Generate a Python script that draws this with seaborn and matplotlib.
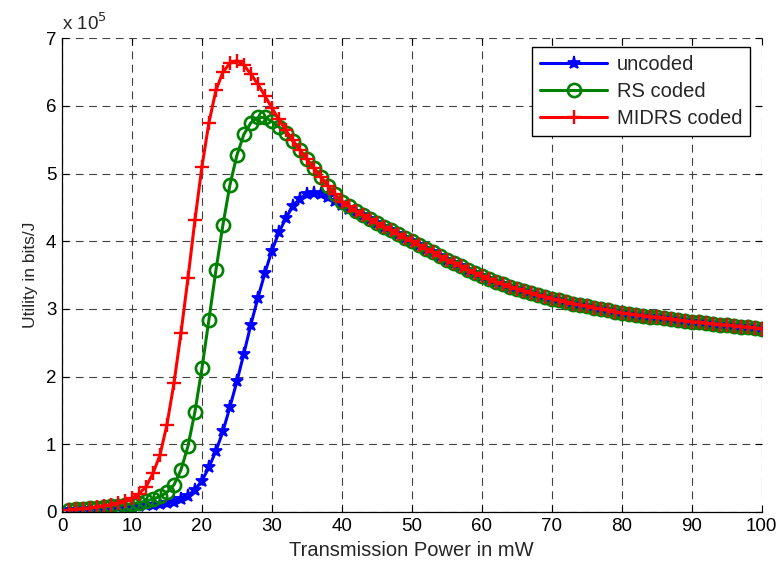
import numpy as np
import pandas as pd
import matplotlib
matplotlib.use("Agg")
import matplotlib.pyplot as plt
import seaborn as sns

# ---- data (utility in units of 1e5 bits/J) ----
power = list(range(1, 101))

tail = [4.515, 4.45, 4.39, 4.33, 4.27, 4.215, 4.16, 4.105, 4.05, 4.00,
        3.945, 3.89, 3.835, 3.78, 3.73, 3.68, 3.63, 3.58, 3.53, 3.48,
        3.44, 3.40, 3.365, 3.33, 3.295, 3.26, 3.23, 3.20, 3.175, 3.15,
        3.125, 3.10, 3.08, 3.06, 3.04, 3.02, 3.00, 2.98, 2.96, 2.94,
        2.927, 2.914, 2.90, 2.887, 2.874, 2.861, 2.848, 2.836, 2.823, 2.81,
        2.80, 2.79, 2.78, 2.77, 2.76, 2.75, 2.74, 2.73, 2.72, 2.71]   # x = 41..100

uncoded_head = [0.03, 0.035, 0.04, 0.045, 0.05, 0.055, 0.06, 0.07, 0.075, 0.08,
                0.09, 0.10, 0.11, 0.12, 0.13, 0.15, 0.19, 0.24, 0.33, 0.46,
                0.66, 0.90, 1.19, 1.55, 1.93, 2.34, 2.77, 3.16, 3.53, 3.86,
                4.13, 4.34, 4.52, 4.63, 4.70, 4.72, 4.70, 4.65, 4.59, 4.53,
                4.48, 4.43, 4.385]   # x = 1..43
rs_head = [0.03, 0.04, 0.05, 0.055, 0.065, 0.075, 0.085, 0.095, 0.105, 0.12,
           0.14, 0.16, 0.19, 0.23, 0.29, 0.40, 0.62, 0.97, 1.48, 2.12,
           2.84, 3.57, 4.24, 4.83, 5.27, 5.58, 5.75, 5.83, 5.83, 5.77,
           5.69, 5.60, 5.48, 5.35, 5.21, 5.08, 4.95, 4.82, 4.70, 4.58]   # x = 1..40
midrs_head = [0.03, 0.04, 0.05, 0.06, 0.08, 0.09, 0.11, 0.13, 0.16, 0.20,
              0.27, 0.37, 0.57, 0.84, 1.29, 1.90, 2.64, 3.45, 4.31, 5.10,
              5.75, 6.23, 6.50, 6.63, 6.67, 6.60, 6.47, 6.32, 6.15, 5.97,
              5.80, 5.64, 5.49, 5.35, 5.21, 5.08, 4.95, 4.82, 4.70, 4.58]   # x = 1..40

uncoded = uncoded_head + tail[len(uncoded_head) - 40:]
rs_coded = rs_head + tail
midrs_coded = midrs_head + tail

series_names = ["uncoded", "RS coded", "MIDRS coded"]
x_ticks = list(range(0, 101, 10))
y_ticks = list(range(0, 8))

df = pd.DataFrame({
    "power": power * 3,
    "utility": uncoded + rs_coded + midrs_coded,
    "scheme": [series_names[0]] * 100 + [series_names[1]] * 100 + [series_names[2]] * 100,
})

sns.set_style("white")
plt.rcParams["font.family"] = ["Liberation Sans", "DejaVu Sans"]

fig = plt.figure(figsize=(7.79, 5.62), dpi=100)
ax = fig.add_axes([0.0796, 0.089, 0.898, 0.843])

blue, green, red = (0, 0, 1), (0, 0.5, 0), (1, 0, 0)
styles = {
    "uncoded": dict(color=blue, marker="*", markersize=9.5, markeredgewidth=1.3,
                    markeredgecolor=blue, markerfacecolor=blue),
    "RS coded": dict(color=green, marker="o", markersize=9.5, markeredgewidth=1.9,
                     markeredgecolor=green, markerfacecolor="none"),
    "MIDRS coded": dict(color=red, marker="+", markersize=10.5, markeredgewidth=1.7,
                        markeredgecolor=red),
}
for name in series_names:
    sub = df[df["scheme"] == name]
    sns.lineplot(data=sub, x="power", y="utility", ax=ax, label=name,
                 linewidth=2.2, **styles[name])

ax.set_xlim(0, 100)
ax.set_ylim(0, 7)
ax.set_xticks(x_ticks)
ax.set_yticks(y_ticks)
ax.set_xticklabels([str(t) for t in x_ticks], fontsize=13.5)
ax.set_yticklabels([str(t) for t in y_ticks], fontsize=13.5)
ax.tick_params(direction="in", length=5, width=0.8, top=True, right=True,
               bottom=True, left=True, pad=4, colors="black")
ax.grid(True, color="0.25", linestyle=(0, (7, 5)), linewidth=0.8)
for s in ["left", "bottom"]:
    ax.spines[s].set_color("black")
    ax.spines[s].set_linewidth(0.9)
for s in ["top", "right"]:
    ax.spines[s].set_visible(False)

ax.set_xlabel("Transmission Power in mW", fontsize=14.5, labelpad=5)
ax.set_ylabel("Utility in bits/J", fontsize=12.5, labelpad=6)
ax.text(0.0, 1.008, r"x 10$^5$", transform=ax.transAxes, fontsize=13.5,
        ha="left", va="bottom")

leg = ax.legend(loc="upper right", bbox_to_anchor=(0.984, 0.981), borderaxespad=0,
                fontsize=14.5, frameon=True, fancybox=False, edgecolor="black",
                framealpha=1, handlelength=3.3, borderpad=0.4, labelspacing=0.4,
                handletextpad=0.5)
leg.get_frame().set_linewidth(1.0)

fig.savefig("out.png", dpi=100)
